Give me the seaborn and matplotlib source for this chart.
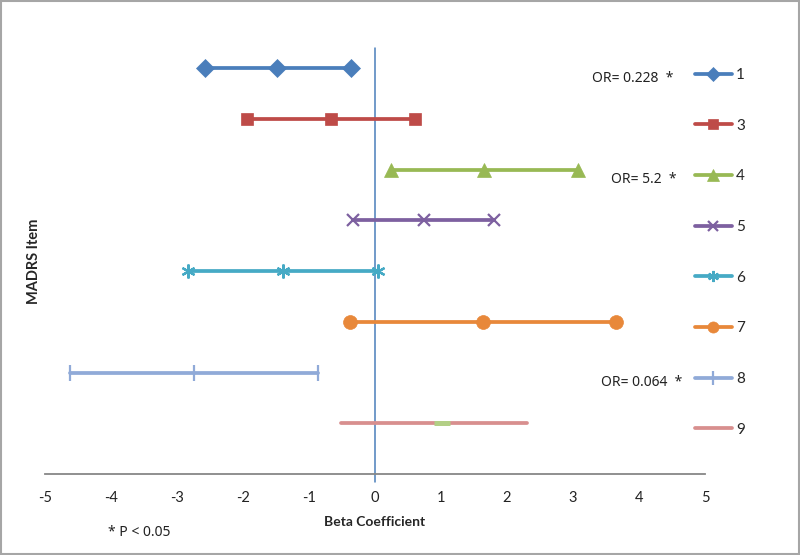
import pandas as pd
import matplotlib
matplotlib.use("Agg")
import matplotlib.pyplot as plt
import seaborn as sns

# Dados: limite inferior, estimativa, limite superior
itens = ['1', '3', '4', '5', '6', '7', '8', '9']
inferior = [-2.58, -1.94, 0.24, -0.34, -2.83, -0.38, -4.62, -0.52]
estimativa = [-1.48, -0.67, 1.65, 0.74, -1.39, 1.63, -2.74, 1.02]
superior = [-0.37, 0.61, 3.07, 1.81, 0.05, 3.65, -0.87, 2.31]

textos_or = ['OR= 0.228  *', 'OR= 5.2  *', 'OR= 0.064  *']
itens_or = ['1', '4', '8']
x_or = [3.29, 3.58, 3.42]

cores = ['#4A7EBB', '#BE4B48', '#98B954', '#7D60A0', '#46AAC5', '#E8883A', '#90AAD8', '#D88F8E']
marcadores = ['D', 's', '^', 'x', (6, 2, 0), 'o', '|', '']
tamanhos = [9, 9, 10, 9, 10, 10, 12, 1]

sns.set_style('white')
plt.rcParams['font.family'] = ['Lato', 'DejaVu Sans']
plt.rcParams['axes.unicode_minus'] = False

# posição vertical de cada item (1 em cima, 9 em baixo)
posicao = {item: len(itens) - i for i, item in enumerate(itens)}

linhas = []
for i, item in enumerate(itens):
    for valor in (inferior[i], estimativa[i], superior[i]):
        linhas.append({'item': item, 'beta': valor, 'pos': posicao[item]})
dados = pd.DataFrame(linhas)

fig = plt.figure(figsize=(8, 5.55), dpi=100)
ax = fig.add_axes([45 / 800, 1 - 474 / 555, 660 / 800, 426 / 555])

for i, item in enumerate(itens):
    sub = dados[dados['item'] == item]
    sns.lineplot(data=sub, x='beta', y='pos', ax=ax, color=cores[i],
                 marker=marcadores[i] if marcadores[i] else None,
                 markersize=tamanhos[i], markeredgewidth=1.6 if marcadores[i] in ('x', '|', (6, 2, 0)) else 0.5,
                 markeredgecolor=cores[i], linewidth=2.7, label=item,
                 estimator=None, sort=False)

# ponto central do item 9 (pequeno traço verde)
i9 = itens.index('9')
ax.plot([estimativa[i9]], [posicao['9']], marker='_', markersize=11,
        markeredgewidth=3.6, color='#B3CF86', zorder=5)

ax.axvline(0, ymin=-0.019, ymax=1, color='#4A7EBB', linewidth=1.1, clip_on=False, zorder=1)

for texto, item, xo in zip(textos_or, itens_or, x_or):
    ax.text(xo, posicao[item] - 0.2, texto, fontsize=10, va='center', ha='left',
            family=['Noto Sans', 'DejaVu Sans'], color='#222222')

ax.set_xlim(-5, 5)
ax.set_ylim(0, 8.4)
ax.set_xticks(range(-5, 6))
ax.set_yticks([])
ax.tick_params(axis='x', length=0, pad=12, labelsize=10.5, colors='#222222')
for lado in ('top', 'right', 'left'):
    ax.spines[lado].set_visible(False)
ax.spines['bottom'].set_color('#878787')
ax.spines['bottom'].set_linewidth(1.3)

ax.set_xlabel('Beta Coefficient', fontsize=10, fontweight='bold', labelpad=8)
ax.set_ylabel('MADRS Item', fontsize=10.5, fontweight='bold', labelpad=3)

leg = ax.legend(loc='upper left', bbox_to_anchor=(695 / 800, 1 - 68 / 555),
                bbox_transform=fig.transFigure, frameon=False, fontsize=11,
                handlelength=2.4, handletextpad=0.3, labelspacing=2.40,
                borderpad=0, borderaxespad=0, markerscale=0.8)

fig.text(108 / 800, 1 - 533 / 555, '* P < 0.05', fontsize=10, va='center', ha='left',
         family=['Noto Sans', 'DejaVu Sans'], color='#222222')

fig.patches.append(plt.Rectangle((0.001, 0.001), 0.998, 0.998, transform=fig.transFigure,
                                 fill=False, edgecolor='#A6A6A6', linewidth=1.5))

fig.savefig('out.png', dpi=100)
